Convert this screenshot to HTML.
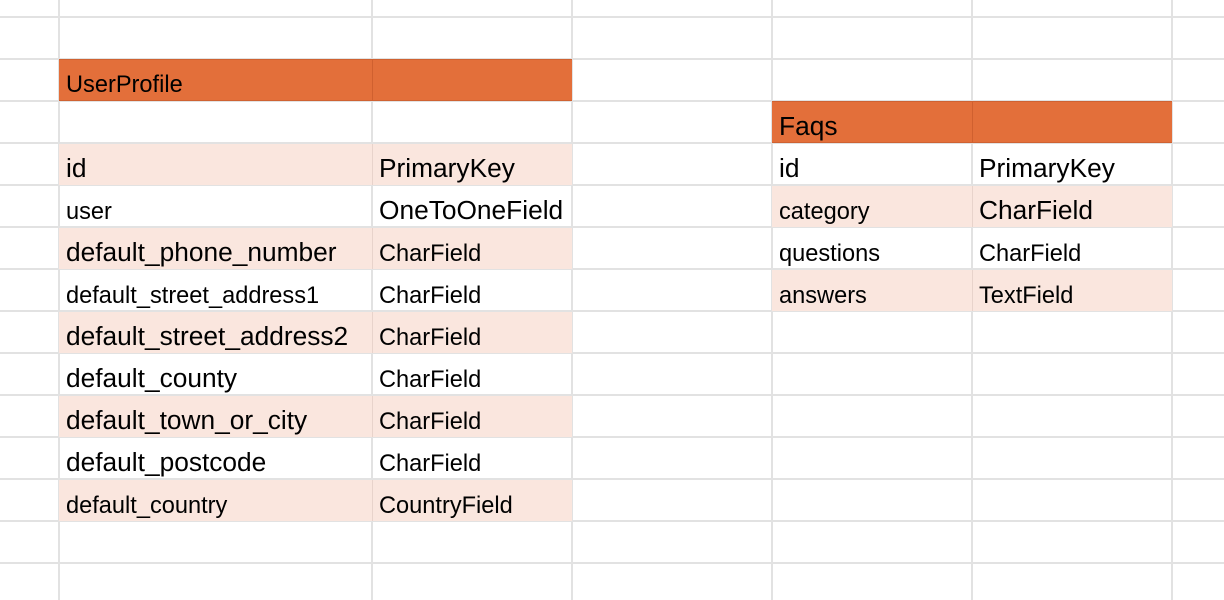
<!DOCTYPE html>
<html><head><style>
body{margin:0;width:1224px;height:600px;overflow:hidden;background:#fff;position:relative;font-family:"Liberation Sans",Arial,sans-serif;color:#000}
.v{position:absolute;top:0;height:600px;width:2px;background:#e2e2e2}
.h{position:absolute;left:0;width:1224px;height:2px;background:#e2e2e2}
.f{position:absolute}
.t{position:absolute;white-space:nowrap;line-height:1}
.b{font-size:26.3px}
.s{font-size:23.6px}
</style></head><body>
<div class="v" style="left:58px"></div><div class="v" style="left:371px"></div><div class="v" style="left:571px"></div><div class="v" style="left:771px"></div><div class="v" style="left:971px"></div><div class="v" style="left:1171px"></div>
<div class="h" style="top:16px"></div><div class="h" style="top:58px"></div><div class="h" style="top:100px"></div><div class="h" style="top:142px"></div><div class="h" style="top:184px"></div><div class="h" style="top:226px"></div><div class="h" style="top:268px"></div><div class="h" style="top:310px"></div><div class="h" style="top:352px"></div><div class="h" style="top:394px"></div><div class="h" style="top:436px"></div><div class="h" style="top:478px"></div><div class="h" style="top:520px"></div><div class="h" style="top:562px"></div>
<div class="f" style="left:59px;top:59px;width:513px;height:42px;background:#e36f3a;border-top:1px solid #cf6232;border-bottom:1px solid #cf6232;box-sizing:border-box"></div>
<div class="f" style="left:372px;top:59px;width:1px;height:42px;background:#d0602f"></div>
<div class="f" style="left:772px;top:101px;width:400px;height:42px;background:#e36f3a;border-top:1px solid #cf6232;border-bottom:1px solid #cf6232;box-sizing:border-box"></div>
<div class="f" style="left:972px;top:101px;width:1px;height:42px;background:#d0602f"></div>
<div class="f" style="left:59px;top:144px;width:513px;height:41px;background:#fae6de"></div>
<div class="f" style="left:59px;top:228px;width:513px;height:41px;background:#fae6de"></div>
<div class="f" style="left:59px;top:312px;width:513px;height:41px;background:#fae6de"></div>
<div class="f" style="left:59px;top:396px;width:513px;height:41px;background:#fae6de"></div>
<div class="f" style="left:59px;top:480px;width:513px;height:41px;background:#fae6de"></div>
<div class="f" style="left:772px;top:186px;width:400px;height:41px;background:#fae6de"></div>
<div class="f" style="left:772px;top:270px;width:400px;height:41px;background:#fae6de"></div>
<div class="f" style="left:372px;top:144px;width:1px;height:41px;background:#e8d3cb"></div>
<div class="f" style="left:372px;top:228px;width:1px;height:41px;background:#e8d3cb"></div>
<div class="f" style="left:372px;top:312px;width:1px;height:41px;background:#e8d3cb"></div>
<div class="f" style="left:372px;top:396px;width:1px;height:41px;background:#e8d3cb"></div>
<div class="f" style="left:372px;top:480px;width:1px;height:41px;background:#e8d3cb"></div>
<div class="f" style="left:972px;top:186px;width:1px;height:41px;background:#e8d3cb"></div>
<div class="f" style="left:972px;top:270px;width:1px;height:41px;background:#e8d3cb"></div>
<div class="t s" style="left:66px;top:74px">UserProfile</div>
<div class="t b" style="left:66px;top:155px">id</div>
<div class="t b" style="left:379px;top:155px">PrimaryKey</div>
<div class="t s" style="left:66px;top:201px">user</div>
<div class="t b" style="left:379px;top:197px">OneToOneField</div>
<div class="t b" style="left:66px;top:239px">default_phone_number</div>
<div class="t s" style="left:379px;top:243px">CharField</div>
<div class="t s" style="left:66px;top:285px">default_street_address1</div>
<div class="t s" style="left:379px;top:285px">CharField</div>
<div class="t b" style="left:66px;top:323px">default_street_address2</div>
<div class="t s" style="left:379px;top:327px">CharField</div>
<div class="t b" style="left:66px;top:365px">default_county</div>
<div class="t s" style="left:379px;top:369px">CharField</div>
<div class="t b" style="left:66px;top:407px">default_town_or_city</div>
<div class="t s" style="left:379px;top:411px">CharField</div>
<div class="t b" style="left:66px;top:449px">default_postcode</div>
<div class="t s" style="left:379px;top:453px">CharField</div>
<div class="t s" style="left:66px;top:495px">default_country</div>
<div class="t s" style="left:379px;top:495px">CountryField</div>
<div class="t b" style="left:779px;top:113px">Faqs</div>
<div class="t b" style="left:779px;top:155px">id</div>
<div class="t b" style="left:979px;top:155px">PrimaryKey</div>
<div class="t s" style="left:779px;top:201px">category</div>
<div class="t b" style="left:979px;top:197px">CharField</div>
<div class="t s" style="left:779px;top:243px">questions</div>
<div class="t s" style="left:979px;top:243px">CharField</div>
<div class="t s" style="left:779px;top:285px">answers</div>
<div class="t s" style="left:979px;top:285px">TextField</div>
</body></html>
